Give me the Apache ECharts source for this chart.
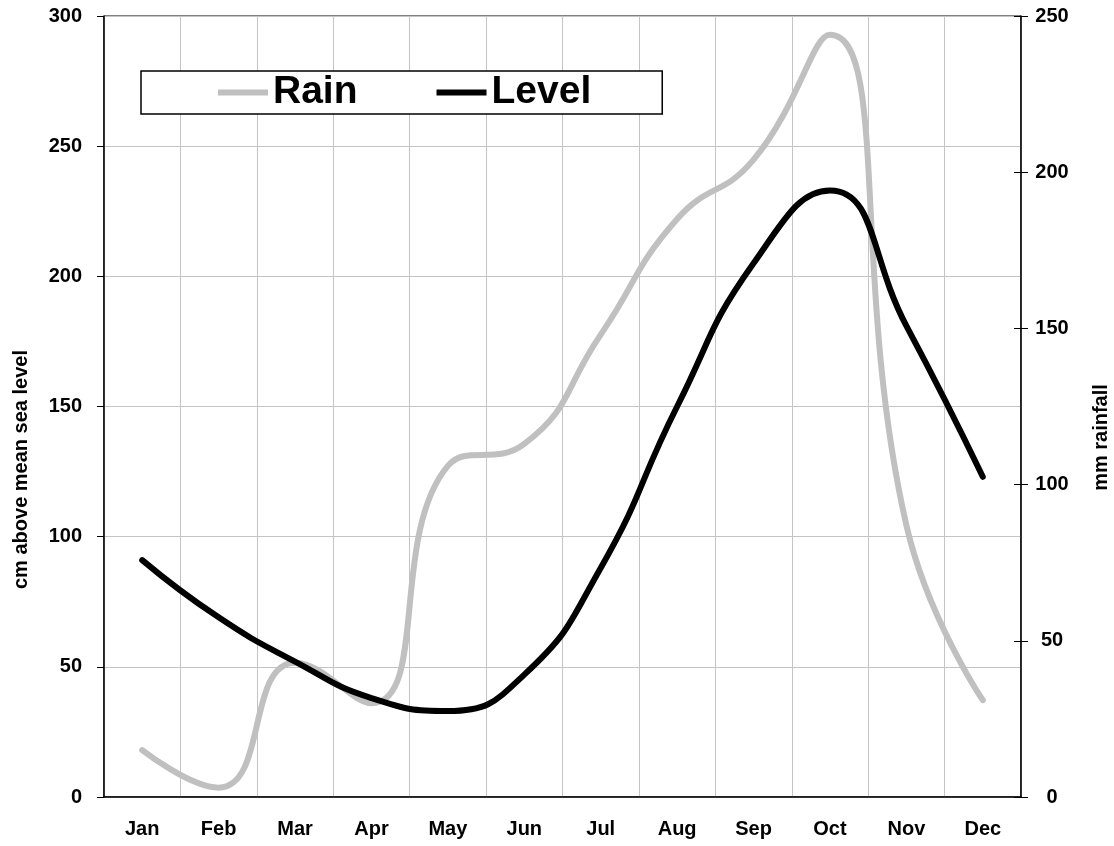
<!DOCTYPE html>
<html>
<head>
<meta charset="utf-8">
<title>Rain and Level</title>
<script src="https://cdn.jsdelivr.net/npm/echarts@6/dist/echarts.min.js"></script>
<style>
  html, body { margin: 0; padding: 0; background: #fff; }
  #rainLevel { width: 1114px; height: 846px; }
</style>
</head>
<body>
<div id="rainLevel"></div>
<script>
  // data
  let months = ['Jan','Feb','Mar','Apr','May','Jun','Jul','Aug','Sep','Oct','Nov','Dec']
  let levelData = [91, 69, 52, 38, 33, 47, 88, 150, 205, 233, 181, 123]   // cm, left axis
  let rainData = [15, 3, 43, 30, 106, 113, 148, 185, 204, 244, 87, 31]    // mm, right axis

  let font = 'Liberation Sans, Arial, sans-serif'
  let labelStyle = {
      color: '#000',
      fontSize: 20,
      fontWeight: 'bold',
      fontFamily: font
  }

  let dom = document.getElementById('rainLevel')
  let myChart = echarts.init(dom)

  let option = {
      animation: false,
      legend: {
          data: ['Rain', 'Level'],
          left: 141,
          top: 71,
          padding: [2, 71, 2, 77],
          itemGap: 79,
          itemWidth: 50,
          itemHeight: 6,
          icon: 'rect',
          borderColor: '#000',
          borderWidth: 1.5,
          backgroundColor: '#fff',
          textStyle: {
              color: '#000',
              fontSize: 39,
              fontWeight: 'bold',
              fontFamily: font
          }
      },
      grid: {
          left: 104,
          right: 93,
          top: 16,
          bottom: 49,
          outerBoundsMode: 'none',
          show: true,
          borderColor: '#000',
          borderWidth: 1
      },
      xAxis: {
          type: 'category',
          boundaryGap: true,
          data: months,
          axisLine: { lineStyle: { color: '#000', width: 1.5 } },
          axisTick: { length: 7, lineStyle: { color: '#000' } },
          axisLabel: Object.assign({ margin: 22 }, labelStyle),
          splitLine: { show: true, lineStyle: { color: '#c4c4c4', width: 1 } }
      },
      yAxis: [
          {
              type: 'value',
              min: 0,
              max: 300,
              interval: 50,
              name: 'cm above mean sea level',
              nameLocation: 'middle',
              nameRotate: 90,
              nameGap: 73,
              nameTextStyle: Object.assign({ padding: [0, 126, 0, 0] }, labelStyle),
              axisLine: { show: true, lineStyle: { color: '#000', width: 1.5 } },
              axisTick: { show: true, length: 7, lineStyle: { color: '#000' } },
              axisLabel: Object.assign({ margin: 22 }, labelStyle),
              splitLine: { show: true, lineStyle: { color: '#c4c4c4', width: 1 } }
          },
          {
              type: 'value',
              min: 0,
              max: 250,
              interval: 50,
              position: 'right',
              name: 'mm rainfall',
              nameLocation: 'middle',
              nameRotate: 90,
              nameGap: 70,
              nameTextStyle: Object.assign({ padding: [0, 62, 0, 0] }, labelStyle),
              axisLine: { show: true, lineStyle: { color: '#000', width: 1.5 } },
              axisTick: { show: true, length: 7, lineStyle: { color: '#000' } },
              axisLabel: Object.assign({ margin: 31, align: 'center' }, labelStyle),
              splitLine: { show: false }
          },
          {
              // inner half of the crossing ticks on the right axis
              type: 'value',
              min: 0,
              max: 250,
              interval: 50,
              position: 'right',
              axisLine: { show: false },
              axisTick: { show: true, inside: true, length: 7, lineStyle: { color: '#000' } },
              axisLabel: { show: false },
              splitLine: { show: false }
          }
      ],
      series: [
          {
              name: 'Rain',
              type: 'line',
              yAxisIndex: 1,
              data: rainData,
              smooth: 0.5,
              symbol: 'none',
              itemStyle: { color: '#c0c0c0' },
              lineStyle: { color: '#c0c0c0', width: 6, cap: 'round' }
          },
          {
              name: 'Level',
              type: 'line',
              yAxisIndex: 0,
              data: levelData,
              smooth: 0.5,
              symbol: 'none',
              itemStyle: { color: '#000' },
              lineStyle: { color: '#000', width: 6, cap: 'round' }
          }
      ]
  }

  myChart.setOption(option, true)
</script>
</body>
</html>
